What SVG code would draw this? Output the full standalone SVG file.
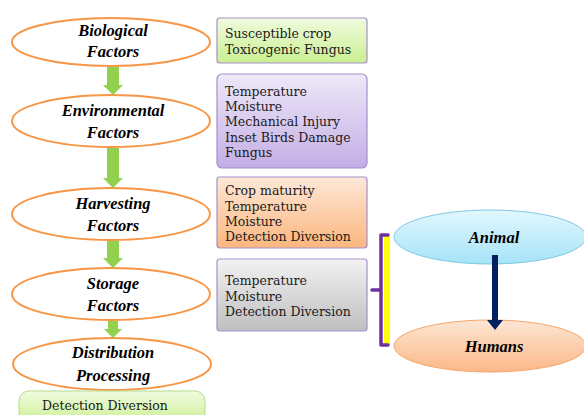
<svg xmlns="http://www.w3.org/2000/svg" width="584" height="415" viewBox="0 0 584 415">
<style>
.fac{fill:#ffffff;stroke:#f79646;stroke-width:2}
.ft{font-family:"Liberation Serif",serif;font-weight:bold;font-style:italic;font-size:16.5px;fill:#000;text-anchor:middle}
.bt{font-family:"DejaVu Serif",serif;font-size:12.5px;fill:#1a1a1a}
.box{stroke:#a58fcc;stroke-width:1.2}
.garrow{fill:#92d050}
</style>
<defs>
<linearGradient id="gGreen" x1="0" y1="0" x2="0" y2="1"><stop offset="0" stop-color="#f0fbdf"/><stop offset="1" stop-color="#c9ef90"/></linearGradient>
<linearGradient id="gPurple" x1="0" y1="0" x2="0" y2="1"><stop offset="0" stop-color="#eee8f8"/><stop offset="1" stop-color="#c3aee6"/></linearGradient>
<linearGradient id="gOrange" x1="0" y1="0" x2="0" y2="1"><stop offset="0" stop-color="#fde8d8"/><stop offset="1" stop-color="#fbb67e"/></linearGradient>
<linearGradient id="gGray" x1="0" y1="0" x2="0" y2="1"><stop offset="0" stop-color="#f2f2f2"/><stop offset="1" stop-color="#bfbfbf"/></linearGradient>
<linearGradient id="gBlue" x1="0" y1="0" x2="0" y2="1"><stop offset="0" stop-color="#e2f7fe"/><stop offset="1" stop-color="#a6e3f7"/></linearGradient>
<linearGradient id="gHum" x1="0" y1="0" x2="0" y2="1"><stop offset="0" stop-color="#fde6d4"/><stop offset="1" stop-color="#fbb887"/></linearGradient>
</defs>

<g id="bio">
<ellipse class="fac" cx="111" cy="42" rx="99" ry="24"/>
<text class="ft" x="113" y="36">Biological</text>
<text class="ft" x="113" y="57">Factors</text>
</g>
<g id="env">
<ellipse class="fac" cx="111" cy="121" rx="99" ry="26"/>
<text class="ft" x="113" y="116">Environmental</text>
<text class="ft" x="113" y="138">Factors</text>
</g>
<g id="harv">
<ellipse class="fac" cx="111" cy="214" rx="99" ry="26"/>
<text class="ft" x="113" y="209">Harvesting</text>
<text class="ft" x="113" y="231">Factors</text>
</g>
<g id="stor">
<ellipse class="fac" cx="111" cy="294" rx="99" ry="26"/>
<text class="ft" x="113" y="289">Storage</text>
<text class="ft" x="113" y="311">Factors</text>
</g>
<g id="dist">
<ellipse class="fac" cx="112" cy="364" rx="99" ry="26"/>
<text class="ft" x="113" y="358">Distribution</text>
<text class="ft" x="113" y="381">Processing</text>
</g>

<g id="box-bio">
<rect class="box" x="217" y="18" width="150" height="45" rx="3" fill="url(#gGreen)"/>
<text class="bt" x="225" y="38">Susceptible crop</text>
<text class="bt" x="225" y="54">Toxicogenic Fungus</text>
</g>
<g id="box-env">
<rect class="box" x="217" y="74" width="150" height="94" rx="5" fill="url(#gPurple)"/>
<text class="bt" x="225" y="96">Temperature</text>
<text class="bt" x="225" y="111">Moisture</text>
<text class="bt" x="225" y="126">Mechanical Injury</text>
<text class="bt" x="225" y="142">Inset Birds Damage</text>
<text class="bt" x="225" y="157">Fungus</text>
</g>
<g id="box-harv">
<rect class="box" x="217" y="177" width="150" height="71" rx="3" fill="url(#gOrange)"/>
<text class="bt" x="225" y="195">Crop maturity</text>
<text class="bt" x="225" y="211">Temperature</text>
<text class="bt" x="225" y="226">Moisture</text>
<text class="bt" x="225" y="241">Detection Diversion</text>
</g>
<g id="box-stor">
<rect class="box" x="217" y="259" width="150" height="72" rx="3" fill="url(#gGray)"/>
<text class="bt" x="225" y="285">Temperature</text>
<text class="bt" x="225" y="301">Moisture</text>
<text class="bt" x="225" y="316">Detection Diversion</text>
</g>
<g id="box-dist">
<rect x="19" y="391" width="186" height="35" rx="10" fill="url(#gGreen)" stroke="#b5dc8a" stroke-width="1"/>
<text class="bt" x="105" y="410" text-anchor="middle">Detection Diversion</text>
</g>

<g id="animal">
<ellipse cx="490" cy="237" rx="96" ry="27" fill="url(#gBlue)" stroke="#7fc9e2" stroke-width="1"/>
<text class="ft" x="494" y="243">Animal</text>
</g>
<g id="humans">
<ellipse cx="490" cy="346" rx="96" ry="26" fill="url(#gHum)" stroke="#f5a66a" stroke-width="1"/>
<text class="ft" x="494" y="352">Humans</text>
</g>

<g id="connectors">
<path class="garrow" d="M107,67 H119 V85 H123 L113,95 L103,85 H107 Z"/>
<path class="garrow" d="M107,148 H119 V178 H123 L113,188 L103,178 H107 Z"/>
<path class="garrow" d="M107,241 H119 V258 H123 L113,268 L103,258 H107 Z"/>
<path class="garrow" d="M108,321 H118 V329 H122 L113,338 L104,329 H108 Z"/>
<path fill="#002060" d="M492,255 H498 V320 H503 L495,330 L487,320 H492 Z"/>
<rect x="384" y="236" width="6" height="108" fill="#ffff00"/>
<path d="M388,235 H381 V345 H388 M381,290 H372" fill="none" stroke="#7030a0" stroke-width="3.5" stroke-linejoin="round" stroke-linecap="round"/>
</g>
</svg>
